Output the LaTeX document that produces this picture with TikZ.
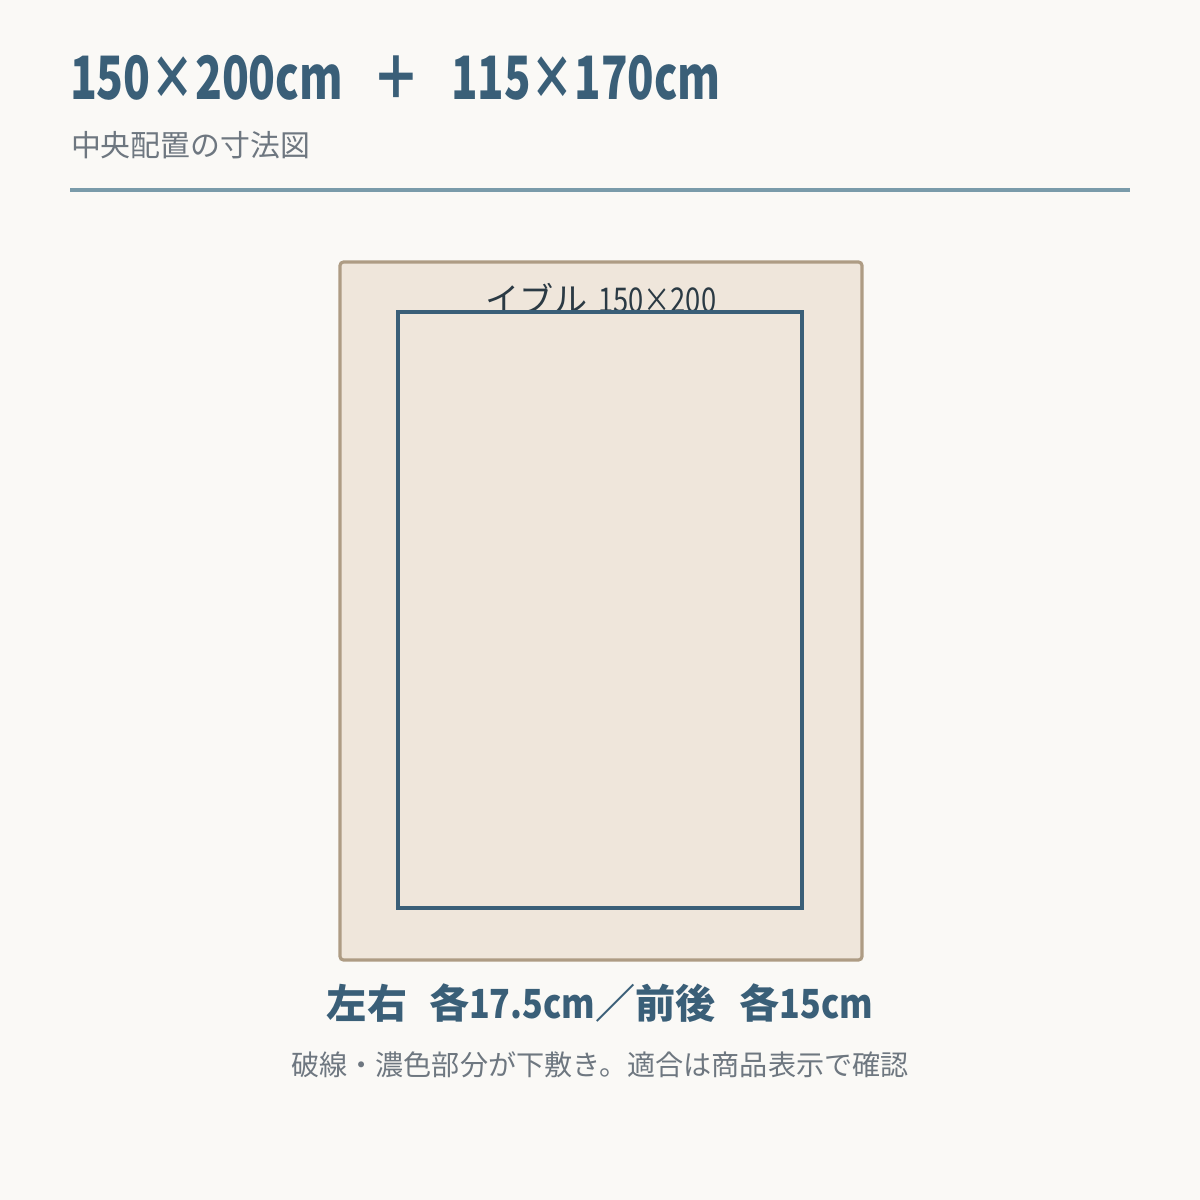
\documentclass[tikz,border=0pt]{standalone}
\usepackage{fontspec}
\setmainfont{Noto Sans CJK JP}
\usetikzlibrary{positioning}
\definecolor{paper}{HTML}{FAF9F6}
\definecolor{navy}{HTML}{3A5F78}
\definecolor{slate}{HTML}{6E7780}
\definecolor{rulecol}{HTML}{7A9BAA}
\definecolor{rugfill}{HTML}{EFE6DB}
\definecolor{rugedge}{HTML}{AE9C84}
\definecolor{inkdark}{HTML}{2B3A44}
\def\canvas{(0,0) rectangle (1200,1200)}
\def\outerrug{(340,262) rectangle (862,960)}
\def\innerrug{(398,312) rectangle (802,908)}
\newcommand{\narrow}[2][0.74]{\scalebox{#1}[1]{#2}}
\tikzset{
  txt/.style={inner sep=0pt, outer sep=0pt},
}
\begin{document}
\begin{tikzpicture}[x=0.01cm, y=-0.01cm]
	\fill [paper] \canvas;
	\useasboundingbox \canvas;
	
	%heading and rule
	\begin{scope}[every node/.style={txt, text=navy, font=\fontsize{17}{20}\selectfont\bfseries}]
		\node [anchor=west] (bigsize) at (70,78) {\narrow{150×200cm}};
		\node [right=0.29cm of bigsize] (plus) {\narrow[0.8]{＋}};
		\node [right=0.31cm of plus] (smallsize) {\narrow[0.73]{115×170cm}};
	\end{scope}
	\node [txt, anchor=west, text=slate] (subtitle) at (71,145)
		{\fontsize{8.5}{10}\selectfont 中央配置の寸法図};
	\draw [rulecol, line width=1.15pt] (70,190) -- (1130,190);
	
	%drawing the two rugs
	\filldraw [fill=rugfill, draw=rugedge, line width=0.9pt, rounded corners=1pt] \outerrug;
	\node [txt, text=inkdark] (label) at (601,298)
		{\fontsize{9.7}{11}\selectfont イブル\hspace{0.1cm}\narrow[0.8]{150×200}};
	\draw [navy, line width=1.15pt] \innerrug;
	
	%notes below
	\node [txt, text=navy] (margins) at (600,1003)
		{\fontsize{11.4}{13}\selectfont\bfseries 左右\hspace{0.22cm}各\narrow[0.85]{17.5cm}／前後\hspace{0.24cm}各\narrow[0.85]{15cm}};
	\node [txt, text=slate] (note) at (600,1065)
		{\fontsize{8}{10}\selectfont 破線・濃色部分が下敷き。適合は商品表示で確認};
\end{tikzpicture}
\end{document}
